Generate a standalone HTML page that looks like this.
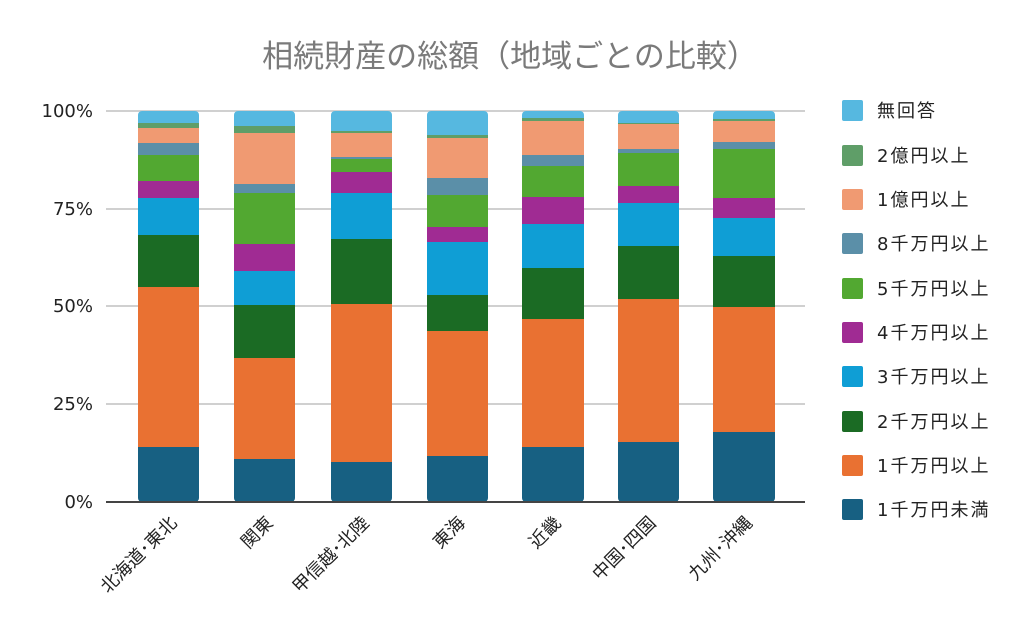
<!DOCTYPE html>
<html><head><meta charset="utf-8"><style>
html,body{margin:0;padding:0;background:#fff;}
svg{display:block;font-family:"DejaVu Sans","Noto Sans CJK JP",sans-serif;}
</style></head><body>
<svg width="1024" height="633" viewBox="0 0 1024 633">
<text x="510" y="67" text-anchor="middle" font-size="31" fill="#7a7a7a">相続財産の総額（地域ごとの比較）</text>
<g stroke="#d0d0d0" stroke-width="2">
<line x1="106" y1="111" x2="805" y2="111"/>
<line x1="106" y1="209" x2="805" y2="209"/>
<line x1="106" y1="306" x2="805" y2="306"/>
<line x1="106" y1="404" x2="805" y2="404"/>
</g>
<g font-size="18" fill="#222" text-anchor="end">
<text x="93" y="117">100%</text>
<text x="93" y="215">75%</text>
<text x="93" y="312">50%</text>
<text x="93" y="410">25%</text>
<text x="93" y="508">0%</text>
</g>
<defs>
<clipPath id="c1"><rect x="138" y="111" width="61" height="391" rx="4"/></clipPath>
<clipPath id="c2"><rect x="234" y="111" width="61" height="391" rx="4"/></clipPath>
<clipPath id="c3"><rect x="331" y="111" width="61" height="391" rx="4"/></clipPath>
<clipPath id="c4"><rect x="427" y="111" width="61" height="391" rx="4"/></clipPath>
<clipPath id="c5"><rect x="522" y="111" width="62" height="391" rx="4"/></clipPath>
<clipPath id="c6"><rect x="618" y="111" width="61" height="391" rx="4"/></clipPath>
<clipPath id="c7"><rect x="713" y="111" width="62" height="391" rx="4"/></clipPath>
</defs>
<g clip-path="url(#c1)">
<rect x="138" y="447" width="61" height="55" fill="#176082"/>
<rect x="138" y="287" width="61" height="160" fill="#e97132"/>
<rect x="138" y="235" width="61" height="52" fill="#1b6b24"/>
<rect x="138" y="198" width="61" height="37" fill="#0f9ed5"/>
<rect x="138" y="181" width="61" height="17" fill="#a02b93"/>
<rect x="138" y="155" width="61" height="26" fill="#52a831"/>
<rect x="138" y="143" width="61" height="12" fill="#5b8fa8"/>
<rect x="138" y="128" width="61" height="15" fill="#f09a72"/>
<rect x="138" y="123" width="61" height="5" fill="#5f9e68"/>
<rect x="138" y="111" width="61" height="12" fill="#56b8e0"/>
</g>
<g clip-path="url(#c2)">
<rect x="234" y="459" width="61" height="43" fill="#176082"/>
<rect x="234" y="358" width="61" height="101" fill="#e97132"/>
<rect x="234" y="305" width="61" height="53" fill="#1b6b24"/>
<rect x="234" y="271" width="61" height="34" fill="#0f9ed5"/>
<rect x="234" y="244" width="61" height="27" fill="#a02b93"/>
<rect x="234" y="193" width="61" height="51" fill="#52a831"/>
<rect x="234" y="184" width="61" height="9" fill="#5b8fa8"/>
<rect x="234" y="133" width="61" height="51" fill="#f09a72"/>
<rect x="234" y="126" width="61" height="7" fill="#5f9e68"/>
<rect x="234" y="111" width="61" height="15" fill="#56b8e0"/>
</g>
<g clip-path="url(#c3)">
<rect x="331" y="462" width="61" height="40" fill="#176082"/>
<rect x="331" y="304" width="61" height="158" fill="#e97132"/>
<rect x="331" y="239" width="61" height="65" fill="#1b6b24"/>
<rect x="331" y="193" width="61" height="46" fill="#0f9ed5"/>
<rect x="331" y="172" width="61" height="21" fill="#a02b93"/>
<rect x="331" y="159" width="61" height="13" fill="#52a831"/>
<rect x="331" y="157" width="61" height="2" fill="#5b8fa8"/>
<rect x="331" y="133" width="61" height="24" fill="#f09a72"/>
<rect x="331" y="131" width="61" height="2" fill="#5f9e68"/>
<rect x="331" y="111" width="61" height="20" fill="#56b8e0"/>
</g>
<g clip-path="url(#c4)">
<rect x="427" y="456" width="61" height="46" fill="#176082"/>
<rect x="427" y="331" width="61" height="125" fill="#e97132"/>
<rect x="427" y="295" width="61" height="36" fill="#1b6b24"/>
<rect x="427" y="242" width="61" height="53" fill="#0f9ed5"/>
<rect x="427" y="227" width="61" height="15" fill="#a02b93"/>
<rect x="427" y="195" width="61" height="32" fill="#52a831"/>
<rect x="427" y="178" width="61" height="17" fill="#5b8fa8"/>
<rect x="427" y="138" width="61" height="40" fill="#f09a72"/>
<rect x="427" y="135" width="61" height="3" fill="#5f9e68"/>
<rect x="427" y="111" width="61" height="24" fill="#56b8e0"/>
</g>
<g clip-path="url(#c5)">
<rect x="522" y="447" width="62" height="55" fill="#176082"/>
<rect x="522" y="319" width="62" height="128" fill="#e97132"/>
<rect x="522" y="268" width="62" height="51" fill="#1b6b24"/>
<rect x="522" y="224" width="62" height="44" fill="#0f9ed5"/>
<rect x="522" y="197" width="62" height="27" fill="#a02b93"/>
<rect x="522" y="166" width="62" height="31" fill="#52a831"/>
<rect x="522" y="155" width="62" height="11" fill="#5b8fa8"/>
<rect x="522" y="121" width="62" height="34" fill="#f09a72"/>
<rect x="522" y="118" width="62" height="3" fill="#5f9e68"/>
<rect x="522" y="111" width="62" height="7" fill="#56b8e0"/>
</g>
<g clip-path="url(#c6)">
<rect x="618" y="442" width="61" height="60" fill="#176082"/>
<rect x="618" y="299" width="61" height="143" fill="#e97132"/>
<rect x="618" y="246" width="61" height="53" fill="#1b6b24"/>
<rect x="618" y="203" width="61" height="43" fill="#0f9ed5"/>
<rect x="618" y="186" width="61" height="17" fill="#a02b93"/>
<rect x="618" y="153" width="61" height="33" fill="#52a831"/>
<rect x="618" y="149" width="61" height="4" fill="#5b8fa8"/>
<rect x="618" y="124" width="61" height="25" fill="#f09a72"/>
<rect x="618" y="123" width="61" height="1" fill="#5f9e68"/>
<rect x="618" y="111" width="61" height="12" fill="#56b8e0"/>
</g>
<g clip-path="url(#c7)">
<rect x="713" y="432" width="62" height="70" fill="#176082"/>
<rect x="713" y="307" width="62" height="125" fill="#e97132"/>
<rect x="713" y="256" width="62" height="51" fill="#1b6b24"/>
<rect x="713" y="218" width="62" height="38" fill="#0f9ed5"/>
<rect x="713" y="198" width="62" height="20" fill="#a02b93"/>
<rect x="713" y="149" width="62" height="49" fill="#52a831"/>
<rect x="713" y="142" width="62" height="7" fill="#5b8fa8"/>
<rect x="713" y="121" width="62" height="21" fill="#f09a72"/>
<rect x="713" y="119" width="62" height="2" fill="#5f9e68"/>
<rect x="713" y="111" width="62" height="8" fill="#56b8e0"/>
</g>
<line x1="106" y1="502" x2="805" y2="502" stroke="#444" stroke-width="2"/>
<g font-size="18" fill="#222" text-anchor="end">
<text transform="translate(178,524) rotate(-45)">北海道･東北</text>
<text transform="translate(274,524) rotate(-45)">関東</text>
<text transform="translate(370,524) rotate(-45)">甲信越･北陸</text>
<text transform="translate(466,524) rotate(-45)">東海</text>
<text transform="translate(562,524) rotate(-45)">近畿</text>
<text transform="translate(657,524) rotate(-45)">中国･四国</text>
<text transform="translate(753,524) rotate(-45)">九州･沖縄</text>
</g>
<g font-size="18" fill="#222" letter-spacing="2">
<rect x="842" y="100" width="21" height="21" rx="2" fill="#56b8e0"/><text x="877" y="117">無回答</text>
<rect x="842" y="145" width="21" height="21" rx="2" fill="#5f9e68"/><text x="877" y="162">2億円以上</text>
<rect x="842" y="189" width="21" height="21" rx="2" fill="#f09a72"/><text x="877" y="206">1億円以上</text>
<rect x="842" y="233" width="21" height="21" rx="2" fill="#5b8fa8"/><text x="877" y="250">8千万円以上</text>
<rect x="842" y="278" width="21" height="21" rx="2" fill="#52a831"/><text x="877" y="295">5千万円以上</text>
<rect x="842" y="322" width="21" height="21" rx="2" fill="#a02b93"/><text x="877" y="339">4千万円以上</text>
<rect x="842" y="366" width="21" height="21" rx="2" fill="#0f9ed5"/><text x="877" y="383">3千万円以上</text>
<rect x="842" y="411" width="21" height="21" rx="2" fill="#1b6b24"/><text x="877" y="428">2千万円以上</text>
<rect x="842" y="455" width="21" height="21" rx="2" fill="#e97132"/><text x="877" y="472">1千万円以上</text>
<rect x="842" y="499" width="21" height="21" rx="2" fill="#176082"/><text x="877" y="516">1千万円未満</text>
</g>
</svg>
</body></html>
